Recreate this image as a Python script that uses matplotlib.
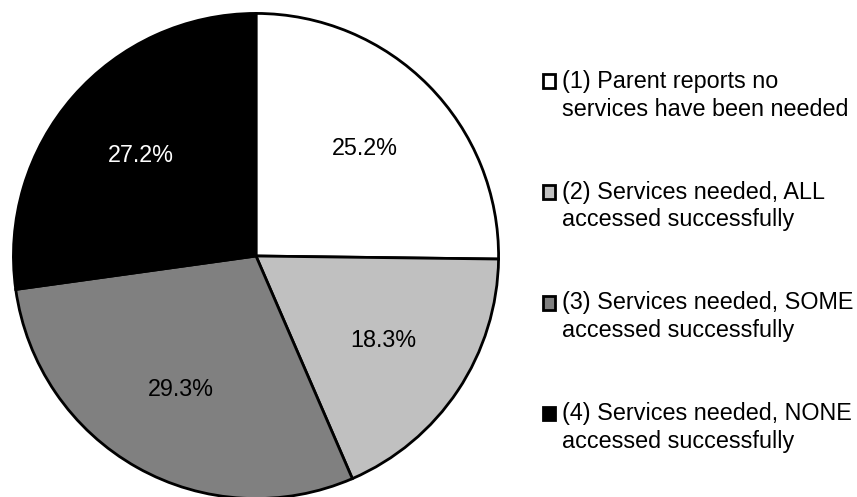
import matplotlib
matplotlib.use("Agg")
import matplotlib.pyplot as plt
from matplotlib.patches import Patch, Rectangle
from matplotlib.legend_handler import HandlerPatch

plt.rcParams['font.family'] = ['Liberation Sans', 'DejaVu Sans']

categories = ["(1) Parent reports no\nservices have been needed",
              "(2) Services needed, ALL\naccessed successfully",
              "(3) Services needed, SOME\naccessed successfully",
              "(4) Services needed, NONE\naccessed successfully"]
values = [25.2, 18.3, 29.3, 27.2]
colors = ["#FFFFFF", "#C0C0C0", "#808080", "#000000"]
text_colors = ["black", "black", "black", "white"]

fig = plt.figure(figsize=(8.57, 4.97), dpi=100)
ax = fig.add_axes([(256 - 245) / 857, (497 - 256 - 245) / 497, 490 / 857, 490 / 497])
wedges, texts, autotexts = ax.pie(values, colors=colors, startangle=90, counterclock=False,
                                  autopct=lambda p: f"{p:.1f}%", pctdistance=0.63,
                                  wedgeprops=dict(edgecolor="black", linewidth=2))
for t, c in zip(autotexts, text_colors):
    t.set_color(c)
    t.set_fontsize(16.8)
ax.set_xlim(-1.01, 1.01)
ax.set_ylim(-1.01, 1.01)
ax.set_aspect('equal')
ax.axis('off')


def first_line_square(legend, orig_handle, xdescent, ydescent, width, height, fontsize):
    # raise the square so it sits beside the first text line
    return Rectangle((-xdescent, -ydescent + 0.63 * fontsize), width, height)


handles = [Patch(facecolor=c, edgecolor="black", linewidth=2) for c in colors]
leg = fig.legend(handles, categories, loc="upper left", bbox_to_anchor=(543 / 857, 1 - 70 / 497),
                 frameon=False, fontsize=16.8, handlelength=0.53, handleheight=0.53,
                 handletextpad=0.28, labelspacing=2.58, borderaxespad=0, borderpad=0,
                 handler_map={Patch: HandlerPatch(patch_func=first_line_square)})
for t in leg.get_texts():
    t.set_linespacing(1.25)

fig.savefig("out.png", dpi=100, facecolor="white")
